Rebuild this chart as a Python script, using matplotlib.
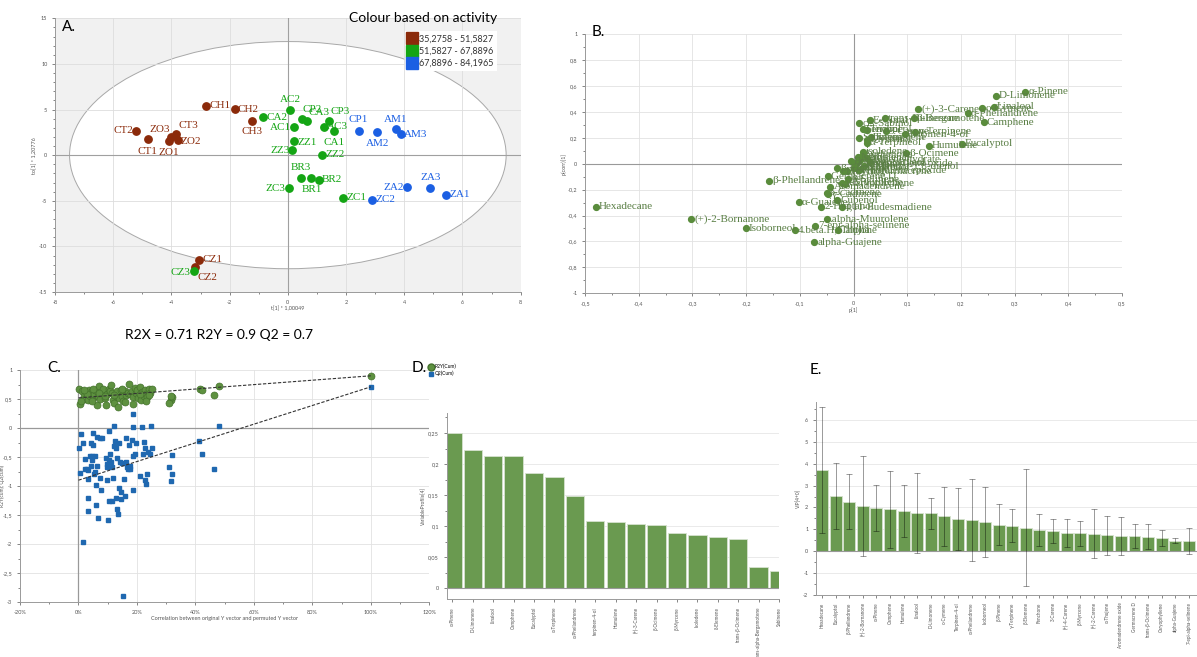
import matplotlib
matplotlib.use("Agg")
import matplotlib.pyplot as plt
from matplotlib.patches import Ellipse
from matplotlib.lines import Line2D
from matplotlib.ticker import MultipleLocator, AutoMinorLocator, FuncFormatter

plt.rcParams['font.family'] = ['Lato', 'DejaVu Sans']
plt.rcParams['axes.unicode_minus'] = False

# ---------------- A. scores plot ----------------
a_names = ['CT2', 'CT1', 'ZO3', 'CT3', 'ZO2', 'ZO1', 'CH1', 'CH2', 'CH3', 'CZ1', 'CZ2',
           'CZ3', 'CA2', 'AC2', 'CP2', 'CA3', 'CP3', 'AC1', 'AC3', 'CA1', 'ZZ1', 'ZZ3',
           'ZZ2', 'BR3', 'BR1', 'BR2', 'ZC3', 'ZC1',
           'CP1', 'AM2', 'AM1', 'AM3', 'ZA2', 'ZA3', 'ZA1', 'ZC2']
a_t1 = [-5.22, -4.81, -4.02, -3.83, -3.78, -4.10, -2.82, -1.82, -1.23, -3.04, -3.18,
        -3.23, -0.86, 0.09, 0.47, 0.66, 1.42, 0.22, 1.23, 1.58, 0.22, 0.15,
        1.18, 0.46, 0.81, 1.08, 0.03, 1.91,
        2.43, 3.08, 3.70, 3.88, 4.09, 4.90, 5.45, 2.90]
a_to1 = [2.70, 1.75, 1.94, 2.34, 1.64, 1.53, 5.41, 5.01, 3.76, -11.47, -12.31,
         -12.75, 4.13, 4.97, 3.98, 3.73, 3.76, 3.07, 3.11, 2.63, 1.50, 0.55,
         0.07, -2.48, -2.52, -2.67, -3.65, -4.68,
         2.67, 2.56, 2.85, 2.27, -3.51, -3.58, -4.35, -4.90]
a_group = [0, 0, 0, 0, 0, 0, 0, 0, 0, 0, 0,
           1, 1, 1, 1, 1, 1, 1, 1, 1, 1, 1,
           1, 1, 1, 1, 1, 1,
           2, 2, 2, 2, 2, 2, 2, 2]
a_ranges = ['35,2758 - 51,5827', '51,5827 - 67,8896', '67,8896 - 84,1965']

# ---------------- B. loadings ----------------
b_names = ['Hexadecane', '(+)-2-Bornanone', 'Isoborneol', '4.beta.H,5.alpha', 'alpha-Guajene',
           '7-epi-alpha-selinene', '.alpha-Muurolene', 'Thujone', 'α-Guaiene', 'Cubenol',
           '2-Heptanol', '4,11-Eudesmadiene', 'β-Phellandrene', 'Germacrene D', 'β-Elemene',
           'δ-Cadinene', 'γ-Muurolene', 'Aromadendrene', 'γ-Cadinene', 'Caryophyllene',
           'β-Selinene', 'Bicyclogermacrene', 'Spathulenol', 'Caryophyllene oxide',
           'Humulene epoxide', 'p-Mentha-1,8-dienol', 'Sabinene hydrate', 'Myrtenal', 'Nerol',
           'Pinocarveol', 'Verbenone', 'Borneol', 'Camphor', 'Thymol',
           'isoledene', 'β-Ocimene', 'α-Terpineol', 'Humulene', 'Eucalyptol', 'Sabinene',
           'Terpinolene', 'Myrtenol', 'Terpinen-4-ol', 'γ-Terpinene', 'Fenchol', 'Terpineol',
           '3-Carene', 'cis-Sabinol', 'E-Citral', 'trans-Bulnesene', 'β-Bergamotene',
           '(+)-3-Carene', 'α-Phellandrene', 'o-Cymene', 'Camphene', 'Linalool',
           'D-Limonene', 'α-Pinene']
b_p1 = [-0.480, -0.302, -0.201, -0.109, -0.073,
        -0.071, -0.050, -0.029, -0.102, -0.030,
        -0.060, -0.022, -0.157, -0.047, -0.030,
        -0.050, -0.022, -0.043, -0.048, -0.015,
        -0.010, -0.020, 0.000, 0.005,
        0.010, 0.020, 0.012, 0.025, 0.008,
        0.030, 0.018, -0.005, 0.002, -0.012,
        0.017, 0.098, 0.025, 0.140, 0.202, 0.011,
        0.033, 0.026, 0.095, 0.115, 0.017, 0.025,
        0.060, 0.011, 0.031, 0.059, 0.112,
        0.121, 0.213, 0.240, 0.243, 0.261,
        0.265, 0.320]
b_pcorr = [-0.334, -0.427, -0.499, -0.512, -0.607,
           -0.478, -0.427, -0.512, -0.298, -0.283,
           -0.334, -0.334, -0.131, -0.098, -0.036,
           -0.224, -0.147, -0.180, -0.235, -0.155,
           -0.120, -0.060, -0.030, 0.005,
           -0.050, -0.020, 0.030, 0.045, 0.050,
           0.010, 0.070, 0.020, -0.010, -0.060,
           0.093, 0.082, 0.160, 0.137, 0.152, 0.200,
           0.205, 0.185, 0.226, 0.247, 0.265, 0.262,
           0.250, 0.310, 0.336, 0.350, 0.350,
           0.419, 0.388, 0.427, 0.321, 0.440,
           0.522, 0.555]

# ---------------- C. permutation test ----------------
c_r2_corr = [0.002, 0.006, 0.012, 0.018, 0.022, 0.028, 0.032, 0.036, 0.041, 0.046,
             0.050, 0.054, 0.058, 0.062, 0.066, 0.071, 0.075, 0.080, 0.085, 0.090,
             0.093, 0.098, 0.103, 0.108, 0.110, 0.114, 0.118, 0.123, 0.127, 0.131,
             0.136, 0.140, 0.145, 0.150, 0.154, 0.158, 0.163, 0.168, 0.172, 0.177,
             0.182, 0.187, 0.192, 0.196, 0.200, 0.205, 0.210, 0.214, 0.219, 0.223,
             0.228, 0.232, 0.236, 0.240, 0.245, 0.250, 0.315, 0.310, 0.320, 0.318,
             0.414, 0.422, 0.462, 0.481, 0.010, 0.030, 0.045, 0.070, 0.090, 0.120,
             0.160, 0.185, 0.210, 0.230, 0.050, 0.150, 0.240, 0.020]
c_r2_val = [0.67, 0.42, 0.64, 0.55, 0.50, 0.61, 0.48, 0.65, 0.56, 0.63,
            0.51, 0.59, 0.66, 0.40, 0.55, 0.72, 0.50, 0.62, 0.67, 0.51,
            0.39, 0.59, 0.68, 0.63, 0.74, 0.60, 0.49, 0.43, 0.55, 0.63,
            0.37, 0.51, 0.65, 0.56, 0.47, 0.63, 0.57, 0.61, 0.76, 0.58,
            0.64, 0.53, 0.69, 0.60, 0.65, 0.52, 0.70, 0.49, 0.62, 0.55,
            0.66, 0.59, 0.53, 0.68, 0.61, 0.67, 0.49, 0.43, 0.53, 0.56,
            0.67, 0.65, 0.57, 0.73, 0.47, 0.58, 0.47, 0.60, 0.55, 0.57,
            0.44, 0.42, 0.58, 0.47, 0.68, 0.68, 0.57, 0.66]
c_q2_corr = [0.002, 0.006, 0.008, 0.015, 0.016, 0.021, 0.023, 0.028, 0.031, 0.032,
             0.033, 0.034, 0.038, 0.042, 0.044, 0.046, 0.047, 0.049, 0.051, 0.054,
             0.055, 0.057, 0.059, 0.060, 0.063, 0.065, 0.067, 0.072, 0.074, 0.076,
             0.080, 0.095, 0.097, 0.098, 0.099, 0.100, 0.103, 0.105, 0.106, 0.108,
             0.111, 0.114, 0.116, 0.117, 0.120, 0.122, 0.125, 0.128, 0.129, 0.131,
             0.133, 0.136, 0.137, 0.140, 0.142, 0.144, 0.145, 0.148, 0.154, 0.156,
             0.158, 0.161, 0.163, 0.165, 0.171, 0.172, 0.176, 0.177, 0.182, 0.185,
             0.186, 0.187, 0.188, 0.193, 0.196, 0.211, 0.217, 0.222, 0.224, 0.227,
             0.228, 0.230, 0.236, 0.239, 0.243, 0.247, 0.251, 0.309, 0.317, 0.319,
             0.320, 0.413, 0.424, 0.463, 0.482]
c_q2_val = [-0.35, -0.78, -0.10, -0.26, -1.96, -0.70, -0.53, -0.70, -1.21, -1.43,
            -0.88, -0.72, -0.48, -0.26, -0.65, -0.55, -0.49, -0.08, -0.29, -0.79,
            -0.76, -0.49, -1.33, -0.99, -0.16, -0.65, -1.55, -0.87, -0.18, -1.07,
            -0.18, -0.51, -0.62, -0.90, -0.67, -1.59, -0.06, -1.25, -0.55, -0.45,
            -0.59, -0.67, -1.25, -0.87, -0.31, 0.03, -0.22, -0.34, -1.21, -1.40,
            -0.51, -1.48, -0.25, -1.04, -0.58, -1.10, -1.22, -0.61, -2.90, -0.88,
            -1.18, -0.18, -0.58, -0.67, -0.71, -0.30, -0.70, -0.66, -0.21, -0.49,
            0.25, 0.02, -1.07, -0.44, -0.26, -0.83, 0.01, -0.44, -0.24, -0.34,
            -0.89, -0.97, -0.80, -0.41, -0.44, 0.03, -0.34, -0.68, -0.92, -0.47,
            -0.80, -0.22, -0.44, -0.71, 0.03]
c_r2_orig = 0.90
c_q2_orig = 0.71
c_r2_intercept = 0.52
c_q2_intercept = -0.90

# ---------------- D. bars ----------------
d_names = ['α-Pinene', 'D-Limonene', 'Linalool', 'Camphene', 'Eucalyptol', 'α-Terpinene',
           'α-Phellandrene', 'terpinen-4-ol', 'Humulene', '(+)-3-Carene', 'β-Ocimene',
           'β-Myrcene', 'Isoledene', 'δ-Elemene', 'trans-β-Ocimene',
           'trans-alpha-Bergamotene', 'Sabinene']
d_values = [0.250, 0.222, 0.213, 0.213, 0.185, 0.179, 0.149, 0.109, 0.107, 0.103,
            0.102, 0.0885, 0.0864, 0.0832, 0.0789, 0.0343, 0.028]

# ---------------- E. VIP ----------------
e_names = ['Hexadecane', 'Eucalyptol', 'β-Phellandrene', '(+)-2-Bornanone', 'α-Pinene',
           'Camphene', 'Humulene', 'Linalool', 'D-Limonene', 'o-Cymene', 'Terpinen-4-ol',
           'α-Phellandrene', 'Isoborneol', 'β-Pinene', 'γ-Terpinene', 'β-Elemene',
           'Fenchone', '3-Carene', '(+)-4-Carene', 'β-Myrcene', '(+)-2-Carene',
           'α-Thujene', 'Aromadendrene oxide', 'Germacrene D', 'trans-β-Ocimene',
           'Caryophyllene', 'alpha-Guajene', '7-epi-alpha-selinene']
e_vip = [3.71, 2.53, 2.27, 2.06, 1.98, 1.91, 1.83, 1.76, 1.73, 1.59, 1.47, 1.42, 1.34,
         1.21, 1.16, 1.07, 0.96, 0.92, 0.82, 0.81, 0.79, 0.72, 0.69, 0.69, 0.66, 0.60,
         0.47, 0.46]
e_err = [2.90, 1.50, 1.26, 2.29, 1.06, 1.78, 1.18, 1.84, 0.70, 1.37, 1.42, 1.88, 1.59,
         0.94, 0.76, 2.69, 0.73, 0.53, 0.65, 0.59, 1.13, 0.88, 0.87, 0.55, 0.58, 0.36,
         0.11, 0.58]

W, H = 1197, 657
fig = plt.figure(figsize=(W / 100, H / 100), dpi=100)


def box(x0, y0, x1, y1):
    # pixel box (top-left origin) -> figure fraction
    return [x0 / W, 1 - y1 / H, (x1 - x0) / W, (y1 - y0) / H]


comma = FuncFormatter(lambda v, p: ('%g' % round(v, 3)).replace('.', ','))
tick_kw = dict(labelsize=4, colors='#555555', length=2, width=0.5)


def style(ax):
    for s in ['top', 'right']:
        ax.spines[s].set_visible(False)
    for s in ['left', 'bottom']:
        ax.spines[s].set_color('#9a9a9a')
        ax.spines[s].set_linewidth(0.7)
    ax.tick_params(which='both', **tick_kw)
    ax.tick_params(which='minor', length=1.2)


# ---- A
ax = fig.add_axes(box(55, 18.3, 520.7, 292))
ax.set_facecolor('#f1f1f1')
ax.add_patch(Ellipse((0, 0), 15.0, 24.9, facecolor='white', edgecolor='#a8a8a8', lw=0.7, zorder=0.2))
ax.grid(True, color='#dddddd', lw=0.6)
ax.set_axisbelow(True)
ax.axhline(0, color='#a0a0a0', lw=0.8, zorder=0.6)
ax.axvline(0, color='#a0a0a0', lw=0.8, zorder=0.6)
a_colors = ['#8B2A0A', '#14A514', '#1B5FE3']
a_off = {'CT2': (-13, 0), 'CT1': (0, -12), 'ZO3': (-11, 8), 'CT3': (12, 8), 'ZO2': (13, -1),
         'ZO1': (0, -11), 'CH1': (14, 0), 'CH2': (13, 0), 'CH3': (0, -11), 'CZ1': (13, 0),
         'CZ2': (12, -10), 'CZ3': (-13, -1), 'CA2': (14, 0), 'AC2': (0, 10), 'CP2': (11, 9),
         'CA3': (12, 9), 'CP3': (11, 9), 'AC1': (-14, 0), 'AC3': (14, 0), 'CA1': (0, -11),
         'ZZ1': (13, -1), 'ZZ3': (-12, 0), 'ZZ2': (13, 0), 'BR3': (0, 10), 'BR1': (0, -11),
         'BR2': (13, 0), 'ZC3': (-13, 0), 'ZC1': (13, 0), 'CP1': (0, 11), 'AM2': (0, -12),
         'AM1': (0, 10), 'AM3': (15, 0), 'ZA2': (-13, 0), 'ZA3': (0, 10), 'ZA1': (13, 0),
         'ZC2': (13, 0)}
for g in range(3):
    xs = [x for x, gg in zip(a_t1, a_group) if gg == g]
    ys = [y for y, gg in zip(a_to1, a_group) if gg == g]
    ax.plot(xs, ys, 'o', color=a_colors[g], ms=5.3, mec=a_colors[g], zorder=3, label=a_ranges[g])
for n, x, y, g in zip(a_names, a_t1, a_to1, a_group):
    ax.annotate(n, (x, y), xytext=a_off[n], textcoords='offset pixels', ha='center', va='center',
                fontsize=8, color=a_colors[g], family='Liberation Serif', zorder=4)
ax.set_xlim(-8, 8)
ax.set_ylim(-15, 15)
ax.xaxis.set_major_locator(MultipleLocator(2))
ax.yaxis.set_major_locator(MultipleLocator(5))
ax.xaxis.set_minor_locator(AutoMinorLocator(2))
ax.yaxis.set_minor_locator(AutoMinorLocator(5))
style(ax)
ax.set_xlabel('t[1] * 1,00049', fontsize=4, color='#555555', labelpad=1)
ax.set_ylabel('to[1] * 1,20776', fontsize=4, color='#555555', labelpad=1)
leg = ax.legend(loc='upper right', bbox_to_anchor=(0.949, 0.954), fontsize=6.5, markerscale=1,
                handlelength=0.9, handletextpad=0.3, frameon=True, fancybox=False,
                framealpha=1, edgecolor='none', borderaxespad=0, labelspacing=0.35)
for h, c in zip(leg.legend_handles, a_colors):
    h.set_marker('s')
    h.set_markersize(9)
for t in leg.get_texts():
    t.set_color('#333333')
fig.text(62 / W, 1 - 27 / H, 'A.', fontsize=11, va='center', ha='left')
fig.text(349 / W, 1 - 18 / H, 'Colour based on activity', fontsize=10, va='center', ha='left')

# ---- B
bx = fig.add_axes(box(585, 34, 1122, 293.3))
bx.grid(True, color='#e2e2e2', lw=0.6)
bx.set_axisbelow(True)
bx.axhline(0, color='#999999', lw=0.8, zorder=0.6)
bx.axvline(0, color='#999999', lw=0.8, zorder=0.6)
bx.plot(b_p1, b_pcorr, 'o', color='#5A8C3C', ms=4.2, zorder=3)
for n, x, y in zip(b_names, b_p1, b_pcorr):
    bx.annotate(n, (x, y), xytext=(3, 0), textcoords='offset pixels', ha='left', va='center',
                fontsize=8, color='#5A7F45', family='Liberation Serif', zorder=4)
bx.set_xlim(-0.5, 0.5)
bx.set_ylim(-1, 1)
bx.xaxis.set_major_locator(MultipleLocator(0.1))
bx.yaxis.set_major_locator(MultipleLocator(0.2))
bx.xaxis.set_minor_locator(AutoMinorLocator(2))
bx.yaxis.set_minor_locator(AutoMinorLocator(2))
bx.xaxis.set_major_formatter(comma)
bx.yaxis.set_major_formatter(comma)
style(bx)
bx.set_xlabel('p[1]', fontsize=4, color='#555555', labelpad=1)
bx.set_ylabel('p(corr)[1]', fontsize=4, color='#555555', labelpad=1)
fig.text(592 / W, 1 - 32 / H, 'B.', fontsize=11, va='center', ha='left')

# ---- C
fig.text(125 / W, 1 - 335 / H, 'R2X = 0.71 R2Y = 0.9 Q2 = 0.7', fontsize=10, va='center', ha='left')
cx = fig.add_axes(box(20, 370, 429.3, 602))
cx.grid(True, color='#e2e2e2', lw=0.6)
cx.set_axisbelow(True)
cx.axhline(0, color='#999999', lw=0.9, zorder=0.6)
cx.axvline(0, color='#999999', lw=0.9, zorder=0.6)
cx.plot(c_q2_corr + [1.0], c_q2_val + [c_q2_orig], 's', color='#1F68B0', ms=3.0, zorder=3)
cx.plot(c_r2_corr + [1.0], c_r2_val + [c_r2_orig], 'o', color='#5E9140', mec='#44722C',
        mew=0.5, ms=5, zorder=4)
cx.plot([0, 1.0], [c_r2_intercept, c_r2_orig], color='#333333', lw=0.8, ls=(0, (3, 1.5)), zorder=5)
cx.plot([0, 1.0], [c_q2_intercept, c_q2_orig], color='#333333', lw=0.8, ls=(0, (3, 1.5)), zorder=5)
cx.set_xlim(-0.2, 1.2)
cx.set_ylim(-3, 1)
cx.xaxis.set_major_locator(MultipleLocator(0.2))
cx.yaxis.set_major_locator(MultipleLocator(0.5))
cx.xaxis.set_minor_locator(AutoMinorLocator(2))
cx.yaxis.set_minor_locator(AutoMinorLocator(2))
cx.xaxis.set_major_formatter(FuncFormatter(lambda v, p: '%d%%' % round(v * 100)))
cx.yaxis.set_major_formatter(comma)
style(cx)
cx.set_xlabel('Correlation between original Y vector and permuted Y vector', fontsize=4,
              color='#555555', labelpad=1)
cx.set_ylabel('R2Y(cum); Q2(cum)', fontsize=3.5, color='#555555')
cx.yaxis.set_label_coords(-0.036, 0.5)
fig.text(47 / W, 1 - 368 / H, 'C.', fontsize=11, va='center', ha='left')
handles = [Line2D([], [], marker='o', ls='', color='#5E9140', mec='#44722C', ms=5),
           Line2D([], [], marker='s', ls='', color='#1F68B0', ms=3)]
fig.legend(handles, ['R2Y(Cum)', 'Q2(Cum)'], loc='upper left', bbox_to_anchor=(430 / W, 1 - 364 / H),
           fontsize=3.5, frameon=False, handlelength=0.6, handletextpad=0.3, labelspacing=0.3,
           borderaxespad=0, borderpad=0)

# ---- D
dx = fig.add_axes(box(446.7, 413, 779, 599.3))
dx.bar(range(len(d_values)), d_values, width=0.9, color='#6A9A50', edgecolor='#d6e2cf', lw=0.6, zorder=2)
dx.grid(True, axis='y', color='#e6e6e6', lw=0.6)
dx.set_axisbelow(True)
dx.axhline(0, color='#999999', lw=0.8, zorder=3)
dx.set_xlim(-0.28, 15.67)
dx.set_ylim(-0.0177, 0.2822)
dx.yaxis.set_major_locator(MultipleLocator(0.05))
dx.yaxis.set_minor_locator(AutoMinorLocator(2))
dx.yaxis.set_major_formatter(comma)
dx.set_xticks(range(len(d_names)))
dx.set_xticklabels(d_names, rotation=90, fontsize=3.3)
style(dx)
dx.tick_params(axis='x', labelsize=3.3)
dx.set_ylabel('VariableProfile[4]', fontsize=3.5, color='#555555', labelpad=1)
fig.text(412 / W, 1 - 368 / H, 'D.', fontsize=11, va='center', ha='left')

# ---- E
ex = fig.add_axes(box(816, 401.7, 1197, 594.7))
ex.bar(range(len(e_vip)), e_vip, width=0.88, color='#6A9A50', edgecolor='#d6e2cf', lw=0.6, zorder=2)
ex.errorbar(range(len(e_vip)), e_vip, yerr=e_err, fmt='none', ecolor='black', alpha=0.4,
            elinewidth=0.7, capsize=2.5, capthick=0.7, zorder=3)
ex.grid(True, axis='y', color='#e6e6e6', lw=0.6)
ex.set_axisbelow(True)
ex.axhline(0, color='#999999', lw=0.8, zorder=2.5)
ex.set_xlim(-0.45, 27.6)
ex.set_ylim(-2, 6.85)
ex.yaxis.set_major_locator(MultipleLocator(1))
ex.yaxis.set_minor_locator(AutoMinorLocator(2))
ex.set_xticks(range(len(e_names)))
ex.set_xticklabels(e_names, rotation=90, fontsize=3.3)
style(ex)
ex.tick_params(axis='x', labelsize=3.3)
ex.set_ylabel('VIP[4+0]', fontsize=3.5, color='#555555', labelpad=1)
fig.text(810 / W, 1 - 370 / H, 'E.', fontsize=11, va='center', ha='left')

fig.savefig('out.png', dpi=100)
